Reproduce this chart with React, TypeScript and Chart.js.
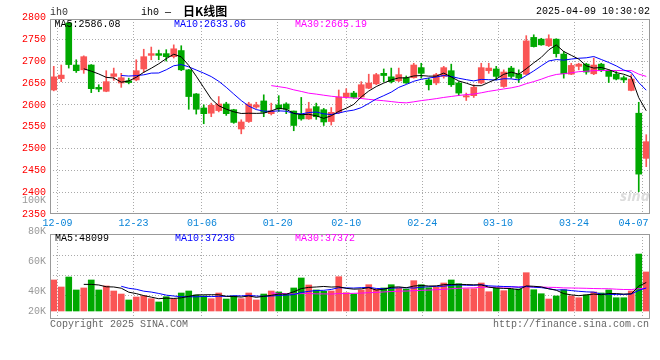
import React, { useEffect, useRef } from "react";
import { Chart, registerables } from "chart.js";

Chart.register(...registerables);

// ---------------- data ----------------
const dates = [
  "12-09","12-10","12-11","12-12","12-13","12-16","12-17","12-18","12-19","12-20",
  "12-23","12-24","12-25","12-26","12-27","12-30","12-31","01-02","01-03","01-06",
  "01-07","01-08","01-09","01-10","01-13","01-14","01-15","01-16","01-17","01-20",
  "01-21","01-22","01-23","01-24","01-27","02-05","02-06","02-07","02-10","02-11",
  "02-12","02-13","02-14","02-17","02-18","02-19","02-20","02-21","02-24","02-25",
  "02-26","02-27","02-28","03-03","03-04","03-05","03-06","03-07","03-10","03-11",
  "03-12","03-13","03-14","03-17","03-18","03-19","03-20","03-21","03-24","03-25",
  "03-26","03-27","03-28","03-31","04-01","04-02","04-03","04-07","04-08","04-09",
];
const tickDates = ["12-09", "12-23", "01-06", "01-20", "02-10", "02-24", "03-10", "03-24", "04-07"];

const opens = [
  2634,2660,2787,2691,2680,2691,2640,2631,2665,2650, 2655,2657,2682,2713,2717,2717,2710,2724,2680,2625,
  2593,2581,2587,2602,2589,2545,2562,2595,2609,2580, 2600,2602,2586,2577,2568,2596,2589,2562,2583,2618,
  2627,2618,2638,2648,2672,2664,2655,2662,2662,2685, 2657,2650,2665,2678,2650,2618,2621,2650,2678,2682,
  2642,2684,2670,2670,2754,2750,2735,2750,2716,2670, 2688,2693,2671,2693,2678,2670,2662,2633,2581,2478,
];
const highs = [
  2688,2691,2787,2703,2712,2692,2646,2678,2684,2672, 2661,2703,2727,2732,2725,2726,2737,2735,2681,2626,
  2600,2604,2619,2606,2590,2566,2606,2606,2623,2604, 2621,2605,2586,2617,2606,2604,2592,2594,2634,2637,
  2631,2653,2670,2672,2682,2684,2684,2666,2695,2695, 2661,2672,2688,2693,2653,2627,2646,2695,2695,2688,
  2680,2688,2680,2758,2760,2752,2760,2751,2722,2695, 2695,2695,2707,2695,2680,2676,2666,2669,2606,2532,
];
const lows = [
  2632,2653,2684,2674,2672,2628,2630,2630,2656,2640, 2648,2655,2674,2703,2703,2700,2707,2678,2590,2579,
  2557,2573,2584,2576,2558,2534,2560,2592,2573,2577, 2585,2580,2541,2565,2567,2567,2553,2554,2580,2615,
  2615,2615,2637,2646,2653,2650,2653,2649,2661,2661, 2634,2646,2661,2642,2621,2610,2617,2648,2672,2657,
  2640,2661,2651,2669,2732,2736,2733,2709,2661,2669, 2680,2670,2669,2676,2651,2657,2651,2632,2402,2459,
];
const closes = [
  2664,2668,2692,2678,2710,2637,2636,2653,2671,2662, 2651,2678,2710,2717,2713,2710,2728,2680,2619,2590,
  2580,2599,2602,2580,2560,2561,2602,2600,2583,2586, 2591,2590,2553,2568,2591,2573,2561,2583,2618,2627,
  2617,2646,2650,2669,2667,2653,2669,2650,2691,2672, 2646,2669,2685,2646,2627,2621,2640,2685,2684,2665,
  2675,2665,2661,2746,2733,2737,2751,2717,2671,2690, 2693,2675,2691,2678,2665,2659,2657,2659,2442,2516,
];
const volumes = [
  51200,39600,56100,34700,38000,51200,34700,41300,33000,28000,
  18200,23100,24800,20300,14900,23600,19800,29700,33000,26400,
  24800,20300,29700,19800,24800,20300,29700,18200,28000,33000,
  31400,28000,38000,54500,42900,34700,32500,33000,56600,30200,
  28000,34700,43400,36300,38000,43400,38000,36300,50000,43400,
  38400,39100,46200,51200,45000,36800,36800,46200,31800,38000,
  33500,35800,36300,63200,35100,28500,19800,24800,35100,24800,
  21900,26400,31400,29700,34700,21900,21900,33000,94000,64400,
];

const priceTicks = [2800, 2750, 2700, 2650, 2600, 2550, 2500, 2450, 2400, 2350];
const volTicksK = [100, 80, 60, 40, 20];
const maPeriods = [5, 10, 30];
const priceMaText = ["MA5:2586.08", "MA10:2633.06", "MA30:2665.19"];
const volMaText = ["MA5:48099", "MA10:37236", "MA30:37372"];
const symbol = "ih0";
const titleText = "日K线图";
const stamp = "2025-04-09 10:30:02";
const copyright = "Copyright 2025 SINA.COM";
const url = "http://finance.sina.com.cn";

// ---------------- styles ----------------
const RED = "#fa5555";
const GREEN = "#00a800";
const MA_COLORS = ["#000000", "#0000ff", "#ff00ff"];
const GRID = "#aaaaaa";
const FRAME = "#999999";
const MONO = "'Liberation Mono', 'DejaVu Sans Mono', monospace";
const DATE_COLOR = "#0a84d8";

function movingAverage(values: number[], period: number): (number | null)[] {
  return values.map((_, i) => {
    if (i < period - 1) return null;
    let s = 0;
    for (let k = i - period + 1; k <= i; k++) s += values[k];
    return s / period;
  });
}

const framePlugin = {
  id: "frame",
  afterDatasetsDraw(chart: any) {
    const { ctx, chartArea } = chart;
    const { left, top, right, bottom } = chartArea;
    ctx.save();
    ctx.strokeStyle = FRAME;
    ctx.lineWidth = 1;
    ctx.strokeRect(Math.round(left) + 0.5, Math.round(top) + 0.5, Math.round(right - left) - 1, Math.round(bottom - top) - 1);
    ctx.restore();
  },
};

const PRICE_MIN = 2351;
const PRICE_MAX = 2796;
const VOL_PER_PX = 1650;

export default function App() {
  const priceRef = useRef<HTMLCanvasElement>(null);
  const volRef = useRef<HTMLCanvasElement>(null);

  useEffect(() => {
    const n = closes.length;
    const xs = closes.map((_, i) => i + 0.5);
    const colorOf = (i: number) => (closes[i] >= opens[i] ? RED : GREEN);
    const tickIdx = tickDates.map((d) => dates.indexOf(d));
    const font = { family: MONO, size: 10 };

    const gridAxis = (showLabels: boolean) => ({
      type: "linear",
      position: "bottom",
      offset: false,
      min: -1,
      max: n - 2,
      afterBuildTicks: (s: any) => {
        s.ticks = tickIdx.map((v) => ({ value: v }));
      },
      ticks: {
        display: showLabels,
        autoSkip: false,
        maxRotation: 0,
        padding: 3,
        color: DATE_COLOR,
        font,
        callback: (v: number) => (v === n - 3 ? dates[v] + "   " : dates[v]),
      },
      grid: { color: GRID, drawTicks: false, lineWidth: 1, offset: false },
      border: { display: false, dash: [1, 2] },
      afterFit: (s: any) => {
        s.height = showLabels ? 15 : 0;
        s.paddingLeft = 0;
        s.paddingRight = 0;
      },
    });

    const dataX = { type: "linear", min: 0, max: n, display: false, offset: false, grid: { offset: false } };

    const priceMa = maPeriods.map((p, k) => {
      const ma = movingAverage(closes, p);
      return {
        type: "line",
        data: xs.map((x, i) => ({ x, y: ma[i] })),
        borderColor: MA_COLORS[k],
        borderWidth: 1,
        pointRadius: 0,
        tension: 0,
        order: 0,
        xAxisID: "x",
        yAxisID: "y",
      };
    });

    const priceChart = new Chart(priceRef.current!, {
      type: "bar",
      data: {
        datasets: [
          ...priceMa,
          {
            type: "bar",
            data: xs.map((x, i) => ({ x, y: [opens[i], closes[i]] })),
            backgroundColor: (c: any) => colorOf(c.dataIndex),
            barThickness: 6,
            minBarLength: 1,
            grouped: false,
            order: 1,
            xAxisID: "x",
            yAxisID: "y",
          },
          {
            type: "bar",
            data: xs.map((x, i) => ({ x, y: [lows[i], highs[i]] })),
            backgroundColor: (c: any) => colorOf(c.dataIndex),
            barThickness: 1,
            grouped: false,
            order: 2,
            xAxisID: "x",
            yAxisID: "y",
          },
        ] as any,
      },
      options: {
        animation: false,
        responsive: false,
        devicePixelRatio: 1,
        events: [],
        layout: { padding: { left: 0, right: 10, top: 19, bottom: 1 } },
        plugins: { legend: { display: false }, tooltip: { enabled: false } },
        scales: {
          x: dataX,
          xg: gridAxis(true),
          y: {
            type: "linear",
            position: "left",
            min: PRICE_MIN,
            max: PRICE_MAX,
            afterBuildTicks: (s: any) => {
              s.ticks = priceTicks.map((v) => ({ value: v }));
            },
            ticks: { autoSkip: false, padding: 4, color: "#ff0000", font, callback: (v: number) => String(v) },
            grid: {
              drawTicks: false,
              lineWidth: 1,
              color: (c: any) =>
                c.tick && (c.tick.value > PRICE_MAX || c.tick.value < PRICE_MIN) ? "rgba(0,0,0,0)" : GRID,
            },
            border: { display: false, dash: [1, 2] },
            afterFit: (s: any) => {
              s.width = 50;
              s.paddingTop = 0;
              s.paddingBottom = 0;
            },
          },
        } as any,
      },
      plugins: [framePlugin],
    } as any);

    const volMa = maPeriods.map((p, k) => {
      const ma = movingAverage(volumes, p);
      return {
        type: "line",
        data: xs.map((x, i) => ({ x, y: ma[i] })),
        borderColor: MA_COLORS[k],
        borderWidth: 1,
        pointRadius: 0,
        tension: 0,
        order: 0,
        xAxisID: "x",
        yAxisID: "yv",
      };
    });

    const volChart = new Chart(volRef.current!, {
      type: "bar",
      data: {
        datasets: [
          ...volMa,
          {
            type: "bar",
            data: xs.map((x, i) => ({ x, y: volumes[i] })),
            backgroundColor: (c: any) => colorOf(c.dataIndex),
            barThickness: 6,
            grouped: false,
            order: 1,
            xAxisID: "x",
            yAxisID: "yv",
          },
        ] as any,
      },
      options: {
        animation: false,
        responsive: false,
        devicePixelRatio: 1,
        events: [],
        layout: { padding: { left: 0, right: 10, top: 44, bottom: 41 } },
        plugins: { legend: { display: false }, tooltip: { enabled: false } },
        scales: {
          x: dataX,
          xg: gridAxis(false),
          yv: {
            type: "linear",
            position: "left",
            weight: 0,
            min: -8 * VOL_PER_PX,
            max: 77 * VOL_PER_PX,
            afterBuildTicks: (s: any) => {
              s.ticks = [56, 36, 16].map((px) => ({ value: px * VOL_PER_PX }));
            },
            ticks: { display: false },
            grid: { drawTicks: false, color: GRID, lineWidth: 1 },
            border: { display: false, dash: [1, 2] },
            afterFit: (s: any) => {
              s.width = 0;
              s.paddingTop = 0;
              s.paddingBottom = 0;
            },
          },
          yl: {
            type: "linear",
            position: "left",
            weight: 1,
            min: 21.64,
            max: 77.97,
            afterBuildTicks: (s: any) => {
              s.ticks = volTicksK.map((v) => ({ value: Math.max(v, 26.8) }));
            },
            ticks: {
              autoSkip: false,
              padding: 4,
              color: "#999999",
              font,
              callback: (_v: number, i: number) => `${volTicksK[i]}K`,
            },
            grid: { display: false, drawTicks: false },
            border: { display: false },
            afterFit: (s: any) => {
              s.width = 50;
              s.paddingTop = 0;
              s.paddingBottom = 0;
            },
          },
        } as any,
      },
      plugins: [framePlugin],
    } as any);

    return () => {
      priceChart.destroy();
      volChart.destroy();
    };
  }, []);

  const txt = (left: number, top: number, color: string, extra: any = {}) => ({
    position: "absolute" as const,
    left,
    top,
    color,
    fontFamily: MONO,
    fontSize: 10,
    lineHeight: "10px",
    whiteSpace: "pre" as const,
    ...extra,
  });

  const priceMaLeft = [54.5, 174, 295];
  const volMaLeft = [55, 175, 295];

  return (
    <div style={{ position: "absolute", left: 0, top: 0, width: 660, height: 360, background: "#fff", overflow: "hidden" }}>
      <canvas ref={priceRef} width={660} height={230} style={{ position: "absolute", left: 0, top: 0, width: 660, height: 230 }} />
      <canvas ref={volRef} width={660} height={170} style={{ position: "absolute", left: 0, top: 190, width: 660, height: 170 }} />
      <div style={txt(50, 8, "#333")}>{symbol}</div>
      <div style={txt(141, 8, "#000")}>{`${symbol} —`}</div>
      <div
        style={{
          position: "absolute",
          left: 183,
          top: 4.5,
          fontFamily: "'Noto Sans CJK SC', sans-serif",
          fontSize: 12,
          lineHeight: "12px",
          fontWeight: "bold",
          color: "#000",
          whiteSpace: "pre",
        }}
      >
        {titleText}
      </div>
      <div style={txt(536, 7, "#000")}>{stamp}</div>
      {priceMaText.map((t, k) => (
        <div key={"p" + k} style={txt(priceMaLeft[k], 19.5, MA_COLORS[k])}>{t}</div>
      ))}
      {volMaText.map((t, k) => (
        <div key={"v" + k} style={txt(volMaLeft[k], 234, MA_COLORS[k])}>{t}</div>
      ))}
      <div style={txt(50, 319.5, "#666")}>{copyright}</div>
      <div style={txt(493, 319.5, "#666")}>{url}</div>
      <div
        style={{
          position: "absolute",
          left: 620,
          top: 188,
          fontFamily: "'Noto Sans', sans-serif",
          fontStyle: "italic",
          fontWeight: "bold",
          fontSize: 15,
          lineHeight: "15px",
          color: "#dcdcdc",
        }}
      >
        sina
      </div>
    </div>
  );
}
